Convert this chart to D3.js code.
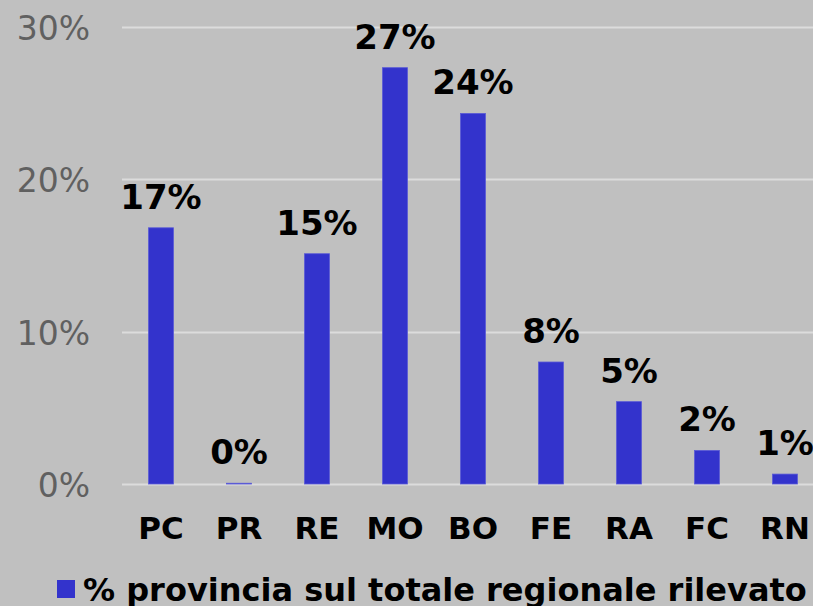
<!DOCTYPE html>
<html><head><meta charset="utf-8">
<script src="https://cdn.jsdelivr.net/npm/d3@7"></script>
<style>html,body{margin:0;padding:0;background:#c0c0c0;}svg{display:block;}</style>
</head><body>
<script>
const categories = ["PC","PR","RE","MO","BO","FE","RA","FC","RN"];
const values = [16.8, 0.05, 15.1, 27.3, 24.3, 8.0, 5.4, 2.2, 0.65];
const labels = ["17%","0%","15%","27%","24%","8%","5%","2%","1%"];
const yTicks = [0, 10, 20, 30];
const seriesName = "% provincia sul totale regionale rilevato";

const W = 813, H = 606;
const svg = d3.select("body").append("svg").attr("width", W).attr("height", H);
svg.append("rect").attr("width", W).attr("height", H).attr("fill", "#c0c0c0");

const x = d3.scaleBand().domain(categories).range([122, 824]).paddingInner(0.68).paddingOuter(0.34);
const y = d3.scaleLinear().domain([0, 30]).range([484, 26.5]);

const font = "'DejaVu Sans', Verdana, sans-serif";

// gridlines
svg.append("g").selectAll("line").data(yTicks).join("line")
  .attr("x1", 122).attr("x2", W).attr("y1", d => Math.round(y(d)) + 0.5).attr("y2", d => Math.round(y(d)) + 0.5)
  .attr("stroke", "#dcdcdc").attr("stroke-width", 2);

// y axis labels
const yAxis = d3.axisLeft(y).tickValues(yTicks).tickFormat(d => d + "%").tickSize(0).tickPadding(0);
const yg = svg.append("g").attr("transform", "translate(90,0)").call(yAxis);
yg.select(".domain").remove();
yg.selectAll("text").attr("font-family", font).attr("font-size", 33).attr("fill", "#606060").attr("dy", "0.39em");

// bars
svg.append("g").selectAll("rect").data(values).join("rect")
  .attr("x", (d, i) => x(categories[i]))
  .attr("width", x.bandwidth())
  .attr("y", d => y(d))
  .attr("height", d => y(0) - y(d))
  .attr("fill", "#3333cc").attr("stroke", "#5a5ad6").attr("stroke-width", 0.8);

// value labels
svg.append("g").selectAll("text").data(values).join("text")
  .attr("x", (d, i) => x(categories[i]) + x.bandwidth() / 2)
  .attr("y", d => y(d) - 19)
  .attr("text-anchor", "middle")
  .attr("font-family", font).attr("font-weight", "bold").attr("font-size", 34).attr("fill", "#000")
  .text((d, i) => labels[i]);

// x axis labels
const xAxis = d3.axisBottom(x).tickSize(0).tickPadding(0);
const xg = svg.append("g").attr("transform", "translate(0,539)").call(xAxis);
xg.select(".domain").remove();
xg.selectAll("text").attr("font-family", font).attr("font-weight", "bold").attr("font-size", 31).attr("fill", "#000").attr("dy", 0);

// legend
const lg = svg.append("g");
lg.append("rect").attr("x", 57).attr("y", 580).attr("width", 18).attr("height", 18).attr("fill", "#3333cc");
lg.append("text").attr("x", 83).attr("y", 601).attr("font-family", font).attr("font-weight", "bold").attr("font-size", 32).attr("fill", "#000").text(seriesName);
</script>
</body></html>
